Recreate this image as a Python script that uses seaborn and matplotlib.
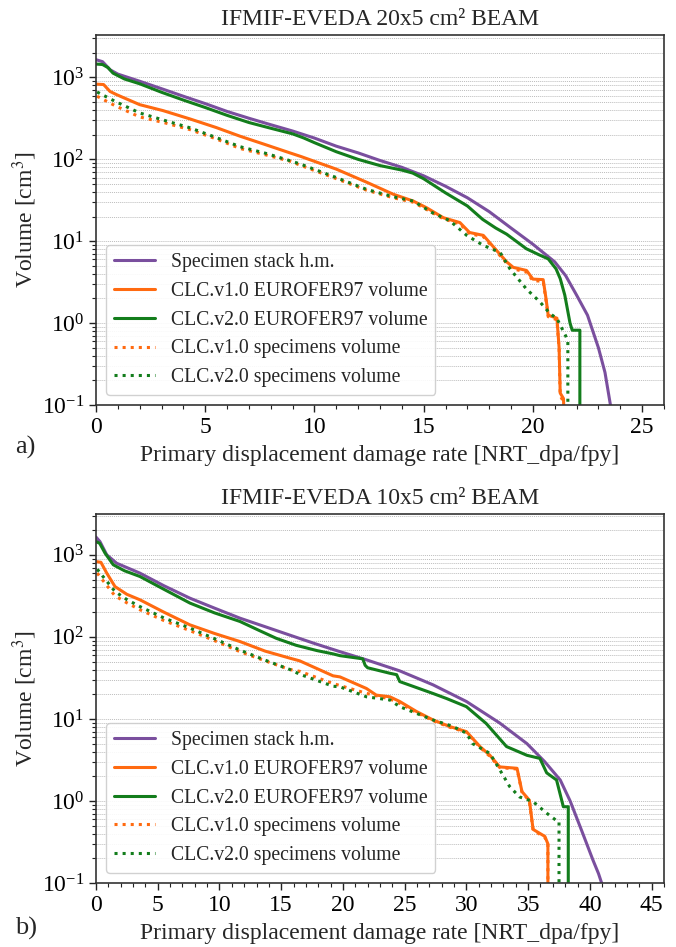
import matplotlib
matplotlib.use("Agg")
import matplotlib.pyplot as plt
from matplotlib.ticker import MultipleLocator, LogLocator, NullFormatter
import seaborn as sns
import pandas as pd

# ---- data ----
labels = ["Specimen stack h.m.", "CLC.v1.0 EUROFER97 volume", "CLC.v2.0 EUROFER97 volume",
          "CLC.v1.0 specimens volume", "CLC.v2.0 specimens volume"]

# a) IFMIF-EVEDA 20x5 cm2 beam
a_hm_x = [0, 0.3, 0.65, 1.0, 2, 3, 4, 5, 6, 7, 8, 9, 10, 11, 12, 13, 14, 15, 16, 17, 18, 19,
          20, 21, 21.5, 22, 22.5, 23, 23.3, 23.55, 23.65]
a_hm_y = [1650, 1560, 1240, 1100, 900, 730, 590, 480, 385, 318, 265, 222, 182, 145, 120, 97, 80,
          63, 47, 34, 23, 14.5, 9.2, 5.6, 3.8, 2.2, 1.25, 0.5, 0.25, 0.1, 0.07]
a_v1_x = [0, 0.35, 0.64, 0.95, 2.0, 3.07, 4.3, 5.5, 6.59, 7.8, 8.88, 9.4, 11.0, 12.39, 13.6, 14.52, 15.13,
          15.9, 16.66, 17.1, 17.73, 18.2, 18.8, 19.1, 19.71, 20.0, 20.47, 20.6, 20.7, 21.1, 21.2, 21.25,
          21.4, 21.45]
a_v1_y = [830, 820, 676, 616, 466, 394, 312, 245, 192, 150, 120, 108, 76, 52.6, 37.6, 31, 25.7,
          19.4, 16.9, 12.8, 11.8, 8.5, 5.6, 4.8, 4.4, 3.45, 3.4, 2.0, 1.25, 1.15, 0.5, 0.14,
          0.12, 0.05]
a_v2_x = [0, 0.3, 0.55, 0.78, 1.3, 2, 3, 4, 5, 6, 7, 8, 9, 9.5, 10, 11, 12, 13, 14, 14.5, 15, 16,
          17, 17.7, 18.3, 18.8, 19.7, 20.3, 20.7, 21.06, 21.25, 21.46, 21.7, 21.8, 22.15, 22.15]
a_v2_y = [1460, 1440, 1320, 1130, 960, 838, 660, 530, 430, 345, 282, 240, 205, 183, 160, 124, 100,
          84, 74, 68, 58, 39, 27, 18.5, 14.5, 12.2, 8.1, 6.8, 6.1, 4.6, 3.5, 2.2, 1.0, 0.82, 0.82,
          0.05]
a_s1_x = [0.05, 0.87, 2.0, 3.16, 4.3, 5.5, 6.59, 7.8, 8.88, 9.34, 10.86, 12.39, 13.6, 14.52, 15.13, 15.9,
          16.66, 17.1, 17.73, 18.2, 18.8, 19.1, 19.71, 20.0, 20.47, 20.6, 20.7, 21.1, 21.2, 21.25, 21.4,
          21.45]
a_s1_y = [590, 453, 330, 279, 231, 178, 136, 113, 95, 85, 60, 42, 34, 30, 24.5, 18.8,
          16.3, 12.4, 11.4, 8.2, 5.4, 4.6, 4.2, 3.3, 3.25, 1.9, 1.2, 1.1, 0.48, 0.13, 0.11,
          0.05]
a_s2_x = [0.05, 0.87, 2.0, 3.16, 4.3, 5.5, 6.59, 7.8, 8.9, 9.34, 10.86, 12.39, 13.6, 14.52, 15.4, 16.2,
          16.97, 17.73, 18.5, 18.95, 19.71, 20.32, 20.78, 21.1, 21.5, 21.6, 21.6]
a_s2_y = [665, 512, 369, 298, 243, 185, 143, 118, 96, 88, 62, 43, 35, 31, 22.3, 17.8,
          11.8, 8.9, 7.3, 4.6, 2.6, 1.82, 1.31, 1.14, 0.7, 0.6, 0.05]

# b) IFMIF-EVEDA 10x5 cm2 beam
b_hm_x = [0, 0.32, 0.87, 1.67, 3.56, 5.5, 7.61, 9.6, 11.66, 13.7, 15.7, 17.7, 19.76, 21.9, 24.6,
          27.3, 30.0, 32.7, 34.9, 36.35, 37.6, 38.4, 39.4, 40.25, 40.7, 41.0, 41.2]
b_hm_y = [1645, 1450, 1000, 790, 598, 420, 296, 224, 169, 133, 105, 83, 66, 52.5, 38.5,
          26, 16.3, 8.9, 5.0, 3.0, 1.8, 1.0, 0.41, 0.19, 0.13, 0.095, 0.075]
b_v1_x = [0, 0.4, 0.87, 1.54, 2.5, 3.56, 5.5, 7.61, 9.6, 11.66, 13.7, 15.7, 16.5, 19.2, 19.76, 21.9,
          22.7, 23.8, 24.6, 25.96, 27.3, 28.66, 30.0, 31.1, 31.9, 32.7, 34.1, 34.5, 35.1, 35.4, 36.35,
          36.6, 36.6]
b_v1_y = [828, 810, 599, 410, 330, 283, 200, 140, 110, 87.7, 67, 55, 51, 33.5, 32.5, 23.5,
          19.5, 18.6, 16.3, 12.3, 9.7, 8.06, 7.0, 4.6, 3.6, 2.6, 2.5, 1.3, 1.02, 0.45, 0.37,
          0.3, 0.05]
b_v2_x = [0, 0.3, 0.73, 1.4, 2.3, 3.56, 5.5, 7.61, 9.6, 11.66, 13.2, 14.6, 16.2, 17.9, 19.2, 19.76,
          21.6, 21.8, 22.0, 23.8, 24.35, 24.6, 27.3, 28.4, 30.0, 31.6, 33.25, 34.9, 35.95, 36.5, 37.3,
          37.85, 38.25, 38.25]
b_v2_y = [1450, 1380, 1050, 756, 640, 544, 380, 258, 196, 154, 120, 96, 79, 68, 62, 59,
          54, 45, 42, 36, 34.6, 28.5, 20.4, 17.7, 14.1, 8.8, 4.6, 3.6, 3.3, 2.2, 1.8,
          0.85, 0.85, 0.05]
b_s1_x = [0.1, 0.5, 1.54, 2.5, 3.56, 5.5, 7.61, 9.6, 11.66, 13.7, 15.7, 16.5, 19.2, 21.9, 23.8, 24.6,
          25.96, 27.3, 28.66, 30.0, 31.1, 31.9, 32.7, 34.1, 34.5, 35.1, 35.4, 36.35, 36.6, 36.6]
b_s1_y = [599, 500, 316, 260, 214, 158, 119, 90, 66, 51, 40, 38, 27, 20.5, 17.5, 15.5,
          12.0, 9.5, 7.9, 6.9, 4.5, 3.5, 2.55, 2.45, 1.28, 1.0, 0.44, 0.36, 0.3, 0.05]
b_s2_x = [0.1, 0.5, 1.54, 2.5, 3.56, 5.5, 7.61, 9.6, 11.66, 13.7, 15.7, 16.5, 19.2, 19.76, 21.9, 23.8,
          24.6, 27.3, 28.9, 30.0, 30.5, 31.9, 32.7, 33.5, 34.3, 35.4, 36.5, 37.4, 37.5, 37.5]
b_s2_y = [668, 560, 357, 285, 234, 170, 128, 95, 69, 52, 40, 35, 25, 24.6, 18.6, 17,
          14.1, 9.7, 8.1, 6.7, 5.0, 3.8, 2.4, 1.5, 1.12, 0.98, 0.71, 0.56, 0.56, 0.05]

colors = ["#7a4f9e", "#ff6a10", "#137d1c", "#ff6a10", "#137d1c"]
styles = ["-", "-", "-", ":", ":"]

sns.set_theme(style="ticks")
plt.rcParams["font.family"] = ["Liberation Serif", "DejaVu Serif"]
plt.rcParams["mathtext.fontset"] = "stix"

fig = plt.figure(figsize=(6.76, 9.47), dpi=100)
ax1 = fig.add_axes([0.142, 0.5723, 0.8402, 0.3907])
ax2 = fig.add_axes([0.142, 0.0676, 0.8402, 0.3897])

panels = [
    (ax1, "IFMIF-EVEDA 20x5 cm² BEAM", 26, 3300,
     [(a_hm_x, a_hm_y), (a_v1_x, a_v1_y), (a_v2_x, a_v2_y), (a_s1_x, a_s1_y), (a_s2_x, a_s2_y)]),
    (ax2, "IFMIF-EVEDA 10x5 cm² BEAM", 46, 3150,
     [(b_hm_x, b_hm_y), (b_v1_x, b_v1_y), (b_v2_x, b_v2_y), (b_s1_x, b_s1_y), (b_s2_x, b_s2_y)]),
]

for ax, title, xmax, ymax, series in panels:
    for (xs, ys), lab, c, ls in zip(series, labels, colors, styles):
        df = pd.DataFrame({"x": xs, "y": ys})
        sns.lineplot(data=df, x="x", y="y", ax=ax, color=c, linestyle=ls, lw=2.2,
                     estimator=None, sort=False, label=lab)
    ax.set_yscale("log")
    ax.set_xlim(0, xmax)
    ax.set_ylim(0.1, ymax)
    ax.xaxis.set_major_locator(MultipleLocator(5))
    ax.xaxis.set_minor_locator(MultipleLocator(1))
    ax.yaxis.set_minor_locator(LogLocator(base=10, subs=range(2, 10), numticks=20))
    ax.yaxis.set_minor_formatter(NullFormatter())
    ax.grid(True, which="both", axis="y", color="#bdbdbd", linestyle=(0, (1, 1)), lw=0.7)
    ax.grid(False, axis="x")
    ax.tick_params(axis="both", which="major", labelsize=17, length=5, width=1, direction="out",
                   bottom=True, left=True, colors="#222222", labelcolor="black")
    ax.tick_params(axis="both", which="minor", length=3, width=0.8, direction="out",
                   bottom=True, left=True, colors="#222222")
    for sp in ax.spines.values():
        sp.set_color("#333333")
        sp.set_linewidth(1.2)
    ax.set_title(title, fontsize=17, pad=7)
    ax.set_xlabel("Primary displacement damage rate [NRT_dpa/fpy]", fontsize=17, labelpad=5)
    ax.set_ylabel("Volume [cm$^3$]", fontsize=17, labelpad=2)
    ax.legend(loc="lower left", fontsize=14.2, handlelength=2.1, framealpha=0.9,
              edgecolor="#cccccc", fancybox=True)

fig.text(0.022, 1 - 447 / 947, "a)", fontsize=19, va="center")
fig.text(0.022, 1 - 928 / 947, "b)", fontsize=19, va="center")

fig.savefig("out.png", dpi=100)
